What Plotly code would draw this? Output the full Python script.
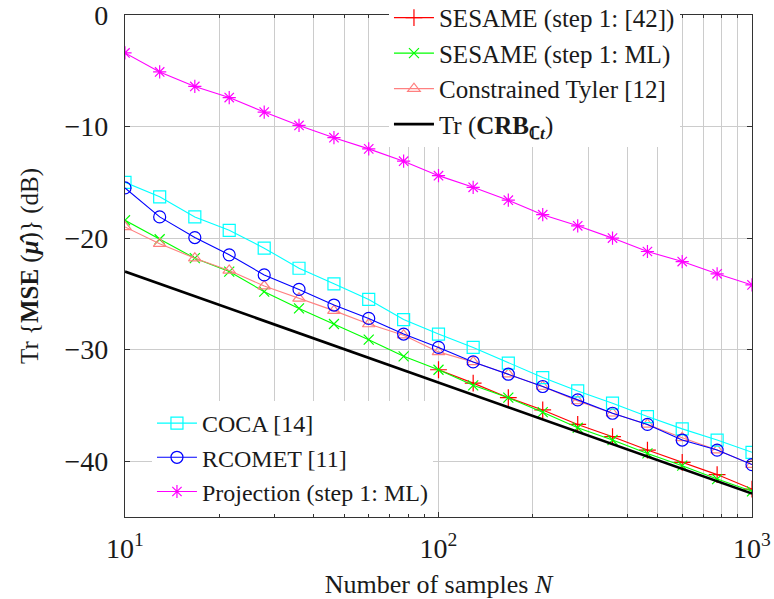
import plotly.graph_objects as go

N = [10, 12.9, 16.7, 21.5, 27.8, 35.9, 46.4, 59.9, 77.4, 100,
     129, 167, 215, 278, 359, 464, 599, 774, 1000]

sesame_42 = [-31.8, -33.0, -34.3, -35.4, -36.7, -37.8, -39.0, -40.1, -41.2, -42.5]
sesame_ml = [-18.4, -20.1, -21.8, -23.0, -24.8, -26.3, -27.7, -29.1, -30.6, -31.8,
             -33.2, -34.3, -35.6, -37.0, -38.1, -39.3, -40.4, -41.6, -42.7]
tyler = [-19.0, -20.5, -21.8, -22.9, -24.3, -25.4, -26.5, -27.7, -28.7, -30.2,
         -31.1, -32.2, -33.3, -34.6, -35.7, -36.7, -37.9, -39.0, -40.3]
crb_N = [10, 1000]
crb = [-23.0, -42.9]
coca = [-15.0, -16.3, -18.1, -19.3, -20.9, -22.7, -24.1, -25.5, -27.3, -28.6,
        -29.8, -31.2, -32.5, -33.7, -34.8, -36.0, -37.1, -38.1, -39.2]
rcomet = [-15.5, -18.1, -19.95, -21.5, -23.3, -24.6, -26.0, -27.2, -28.6, -29.8,
          -31.1, -32.2, -33.3, -34.5, -35.7, -36.7, -38.1, -39.0, -40.3]
proj = [-3.4, -5.1, -6.4, -7.4, -8.7, -9.9, -11.0, -12.0, -13.1, -14.4,
        -15.45, -16.6, -17.9, -18.9, -20.0, -21.2, -22.1, -23.2, -24.2]

FONT = "Liberation Serif"

fig = go.Figure()


def add(x, y, name, color, symbol, size, legend, group, width=1.1):
    fig.add_trace(go.Scatter(
        x=x, y=y, name=name, mode="lines+markers" if symbol else "lines",
        line=dict(color=color, width=width),
        marker=dict(symbol=symbol or "circle", size=size, color=color,
                    line=dict(color=color, width=1.2)),
        legend=legend, legendgroup=group))


add(N[9:], sesame_42, "SESAME (step 1: [42])", "#ff0000", "cross-thin", 12, "legend", "a")
add(N, sesame_ml, "SESAME (step 1: ML)", "#00ff00", "x-thin", 10, "legend", "b")
add(N, tyler, "Constrained Tyler [12]", "#ff8080", "triangle-up-open", 11, "legend", "c")
add(crb_N, crb, "Tr (<b>CRB<sub>ℂ<i>t</i></sub></b>)", "#000000", None, 1, "legend", "d", width=2.6)
add(N, coca, "COCA [14]", "#00ffff", "square-open", 12, "legend2", None)
add(N, rcomet, "RCOMET [11]", "#0000ff", "circle-open", 12, "legend2", None)
add(N, proj, "Projection (step 1: ML)", "#ff00ff", "asterisk-open", 11, "legend2", None)

axis = dict(showline=True, linecolor="#333333", linewidth=1.3, mirror="allticks",
            ticks="inside", ticklen=5, tickcolor="#333333",
            gridcolor="#cccccc", gridwidth=1, zeroline=False, automargin=False,
            ticklabeloverflow="allow",
            tickfont=dict(family=FONT, size=28, color="#1a1a1a"))

fig.update_layout(
    width=774, height=599,
    margin=dict(l=125, r=22, t=15, b=82, autoexpand=False),
    paper_bgcolor="white", plot_bgcolor="white",
    font=dict(family=FONT, color="#1a1a1a"),
    xaxis=dict(axis, type="log", range=[1, 3], tickvals=[10, 100, 1000],
               ticktext=["10<sup>1</sup>", "10<sup>2</sup>", "10<sup>3</sup>"],
               ticklabelstandoff=6,
               minor=dict(ticks="inside", ticklen=3, tickcolor="#333333",
                          showgrid=True, gridcolor="#cccccc", dtick="D1"),
               title=dict(text="Number of samples <i>N</i>",
                          font=dict(family=FONT, size=26), standoff=12)),
    yaxis=dict(axis, range=[-45, 0], tickvals=[0, -10, -20, -30, -40],
               ticktext=["0", "\u221210", "\u221220", "\u221230", "\u221240"],
               ticklabelstandoff=10,
               title=dict(text="Tr {<b>MSE</b> (<b><i>\u03bc\u0302</i></b>)} (dB)",
                          font=dict(family=FONT, size=25), standoff=18)),
    legend=dict(x=0.421, y=1.04, xanchor="left", yanchor="top",
                bgcolor="white", borderwidth=0, tracegroupgap=0,
                font=dict(family=FONT, size=25), itemwidth=40),
    legend2=dict(x=0.043, y=0.006, xanchor="left", yanchor="bottom",
                 bgcolor="white", borderwidth=0, tracegroupgap=0,
                 font=dict(family=FONT, size=24), itemwidth=40),
    showlegend=True,
)

fig.write_html("out.html", config={"displayModeBar": False},
               post_script="document.body.style.margin='0';")
